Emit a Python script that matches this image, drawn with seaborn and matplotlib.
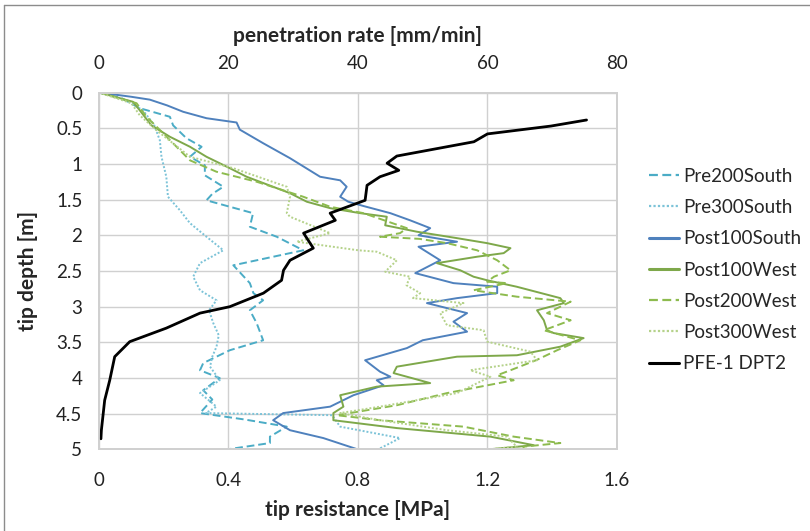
import seaborn as sns
import matplotlib.pyplot as plt
from matplotlib.lines import Line2D

# tip resistance profiles [MPa] vs tip depth [m]
pre200_depth = [0, 0.08, 0.22, 0.34, 0.46, 0.64, 0.76, 0.90, 1.02, 1.16, 1.32, 1.42, 1.51, 1.69, 1.88, 2.02, 2.21,
                2.42, 2.67, 2.81, 2.91, 3.05, 3.23, 3.47, 3.61, 3.79, 3.89, 4.00, 4.17, 4.30, 4.49, 4.58, 4.68,
                4.82, 4.91, 5.0]
pre200_mpa = [0, 0.07, 0.126, 0.219, 0.229, 0.27, 0.317, 0.281, 0.327, 0.327, 0.384, 0.35, 0.332, 0.476, 0.466,
              0.549, 0.631, 0.415, 0.466, 0.477, 0.507, 0.466, 0.487, 0.507, 0.404, 0.322, 0.312, 0.373, 0.322,
              0.35, 0.312, 0.45, 0.58, 0.528, 0.528, 0.394]

pre300_depth = [0, 0.1, 0.25, 0.45, 0.67, 0.90, 1.18, 1.46, 1.65, 1.83, 2.02, 2.21, 2.39, 2.58, 2.77, 2.91, 3.05,
                3.23, 3.40, 3.56, 3.70, 3.84, 4.03, 4.21, 4.40, 4.49, 4.52, 4.68, 4.84, 4.98, 5.0]
pre300_mpa = [0, 0.08, 0.136, 0.17, 0.188, 0.193, 0.208, 0.213, 0.25, 0.281, 0.332, 0.384, 0.312, 0.291, 0.312,
              0.363, 0.34, 0.353, 0.37, 0.363, 0.35, 0.343, 0.373, 0.312, 0.363, 0.33, 0.72, 0.745, 0.93, 0.87,
              0.87]

post100s_depth = [0, 0.06, 0.10, 0.18, 0.27, 0.36, 0.42, 0.52, 0.71, 0.92, 1.18, 1.23, 1.32, 1.46, 1.53, 1.59,
                  1.69, 1.79, 1.90, 2.00, 2.09, 2.16, 2.35, 2.53, 2.67, 2.72, 2.81, 2.88, 2.95, 3.09, 3.21, 3.35,
                  3.47, 3.58, 3.75, 3.91, 3.98, 4.03, 4.10, 4.24, 4.40, 4.49, 4.59, 4.73, 4.84, 5.0]
post100s_mpa = [0, 0.10, 0.157, 0.21, 0.26, 0.332, 0.425, 0.435, 0.507, 0.59, 0.683, 0.745, 0.765, 0.745, 0.77,
                0.817, 0.90, 0.961, 1.023, 0.987, 1.106, 0.987, 1.054, 0.977, 1.095, 1.23, 1.23, 1.106, 1.013,
                1.137, 1.095, 1.137, 1.0, 0.951, 0.822, 0.868, 0.90, 0.858, 0.879, 0.786, 0.714, 0.569, 0.538,
                0.59, 0.693, 0.80]

post100w_depth = [0, 0.13, 0.25, 0.46, 0.62, 0.76, 0.90, 1.06, 1.18, 1.41, 1.53, 1.62, 1.69, 1.74, 1.86, 1.95,
                  2.04, 2.11, 2.18, 2.25, 2.30, 2.39, 2.49, 2.58, 2.63, 2.72, 2.88, 2.95, 3.05, 3.19, 3.33, 3.37,
                  3.44, 3.56, 3.68, 3.70, 3.84, 3.93, 4.07, 4.12, 4.24, 4.40, 4.49, 4.59, 4.70, 4.82, 4.94, 5.0]
post100w_mpa = [0, 0.105, 0.126, 0.162, 0.219, 0.281, 0.332, 0.404, 0.456, 0.59, 0.642, 0.714, 0.807, 0.889,
                0.884, 0.982, 1.106, 1.199, 1.271, 1.25, 1.168, 1.044, 1.116, 1.157, 1.199, 1.29, 1.425, 1.436,
                1.353, 1.374, 1.384, 1.405, 1.497, 1.425, 1.291, 1.106, 0.92, 0.91, 1.023, 0.858, 0.745, 0.755,
                0.724, 0.724, 0.92, 1.209, 1.343, 1.199]

post200w_depth = [0, 0.15, 0.34, 0.57, 0.95, 1.11, 1.25, 1.46, 1.60, 1.69, 1.90, 1.97, 2.02, 2.05, 2.11, 2.21,
                  2.35, 2.49, 2.58, 2.65, 2.67, 2.77, 2.86, 2.93, 3.09, 3.19, 3.33, 3.47, 3.61, 3.75, 3.89, 3.96,
                  4.03, 4.21, 4.38, 4.52, 4.59, 4.68, 4.82, 4.91, 4.96, 5.0]
post200w_mpa = [0, 0.116, 0.147, 0.198, 0.281, 0.363, 0.487, 0.631, 0.714, 0.817, 0.951, 0.93, 0.868, 0.99,
                1.075, 1.168, 1.23, 1.271, 1.22, 1.199, 1.26, 1.157, 1.291, 1.457, 1.384, 1.457, 1.374, 1.487,
                1.415, 1.35, 1.271, 1.23, 1.281, 1.075, 0.92, 0.735, 0.868, 1.126, 1.281, 1.425, 1.312, 1.31]

post300w_depth = [0, 0.15, 0.32, 0.53, 0.90, 1.06, 1.32, 1.46, 1.69, 1.74, 1.97, 2.09, 2.21, 2.23, 2.35, 2.51,
                  2.58, 2.70, 2.81, 2.88, 2.95, 3.09, 3.26, 3.33, 3.49, 3.63, 3.75, 3.89, 3.98, 4.21, 4.40, 4.49,
                  4.59, 4.73, 4.82, 4.96, 5.0]
post300w_mpa = [0, 0.1, 0.126, 0.178, 0.281, 0.415, 0.58, 0.59, 0.58, 0.59, 0.714, 0.611, 0.801, 0.858, 0.92,
                0.884, 0.961, 0.95, 0.992, 0.97, 1.126, 1.054, 1.075, 1.188, 1.199, 1.333, 1.353, 1.147, 1.209,
                1.106, 0.868, 0.745, 0.868, 1.075, 1.26, 1.29, 1.2]

# penetration rate [mm/min] vs depth
pfe_depth = [0.385, 0.47, 0.58, 0.69, 0.89, 0.99, 1.09, 1.18, 1.30, 1.51, 1.69, 1.79, 1.97, 2.18, 2.35, 2.49,
             2.63, 2.81, 3.00, 3.09, 3.30, 3.49, 3.70, 4.03, 4.31, 4.73, 4.85]
pfe_rate = [75.3, 69.8, 60.0, 57.9, 46.0, 44.5, 46.3, 43.4, 41.4, 41.1, 35.7, 36.5, 31.6, 33.1, 29.5, 28.5,
            28.2, 25.4, 20.2, 15.6, 10.4, 4.75, 2.43, 1.66, 0.88, 0.37, 0.3]

series = [
    ("Pre200South", pre200_mpa, pre200_depth, "#4BACC6", (0, (4, 2))),
    ("Pre300South", pre300_mpa, pre300_depth, "#7CC3D8", (0, (1, 1))),
    ("Post100South", post100s_mpa, post100s_depth, "#4F81BD", "-"),
    ("Post100West", post100w_mpa, post100w_depth, "#7EA84A", "-"),
    ("Post200West", post200w_mpa, post200w_depth, "#8DBB4E", (0, (4, 2))),
    ("Post300West", post300w_mpa, post300w_depth, "#B5D28A", (0, (1, 1))),
]

sns.set_theme(style="white")
plt.rcParams['font.family'] = ['Lato', 'DejaVu Sans']

fig = plt.figure(figsize=(8.1, 5.31), dpi=100)
ax = fig.add_axes([0.1222, 0.1535, 0.6395, 0.6723])

handles = []
for name, x, y, color, ls in series:
    sns.lineplot(x=x, y=y, ax=ax, sort=False, estimator=None, color=color, linestyle=ls, linewidth=1.4)
    handles.append(Line2D([], [], color=color, linestyle=ls, linewidth=2.2 if ls == "-" else 1.6, label=name))

ax.set_xlim(0, 1.6)
ax.set_ylim(5, 0)
ax.set_xticks([0, 0.4, 0.8, 1.2, 1.6])
ax.set_xticklabels(["0", "0.4", "0.8", "1.2", "1.6"])
ax.set_yticks([0, 0.5, 1, 1.5, 2, 2.5, 3, 3.5, 4, 4.5, 5])
ax.set_yticklabels(["0", "0.5", "1", "1.5", "2", "2.5", "3", "3.5", "4", "4.5", "5"])
ax.grid(True, color="#D0D0D0", linewidth=1)
ax.set_axisbelow(True)
for s in ax.spines.values():
    s.set_color("#D0D0D0")
ax.tick_params(axis="x", labelsize=13.5, length=0, pad=16, colors="#222222")
ax.tick_params(axis="y", labelsize=13.5, length=0, pad=12, colors="#222222")
ax.set_xlabel("tip resistance [MPa]", fontsize=15, fontweight="bold", labelpad=8)
ax.set_ylabel("tip depth [m]", fontsize=15, fontweight="bold")
ax.yaxis.set_label_coords(-0.118, 0.5)

ax2 = ax.twiny()
sns.lineplot(x=pfe_rate, y=pfe_depth, ax=ax2, sort=False, estimator=None, color="black", linewidth=2)
ax2.set_xlim(0, 80)
ax2.set_xticks([0, 20, 40, 60, 80])
ax2.tick_params(labelsize=13.5, length=0, pad=15, colors="#222222")
ax2.set_xlabel("penetration rate [mm/min]", fontsize=15, fontweight="bold", labelpad=9)
for s in ax2.spines.values():
    s.set_color("#D0D0D0")
handles.append(Line2D([], [], color="black", linewidth=2.2, label="PFE-1 DPT2"))

fig.legend(handles=handles, loc="center left", bbox_to_anchor=(0.78, 0.4915), frameon=False,
           fontsize=13.5, labelspacing=0.76, handlelength=1.6, handletextpad=0.25)

# outer chart frame (left and top edges visible)
fig.add_artist(Line2D([4 / 810, 4 / 810], [0, 1 - 5 / 531], transform=fig.transFigure, color="#8C8C8C", lw=1))
fig.add_artist(Line2D([4 / 810, 1], [1 - 5 / 531, 1 - 5 / 531], transform=fig.transFigure, color="#8C8C8C", lw=1))

fig.savefig("out.png", dpi=100)
